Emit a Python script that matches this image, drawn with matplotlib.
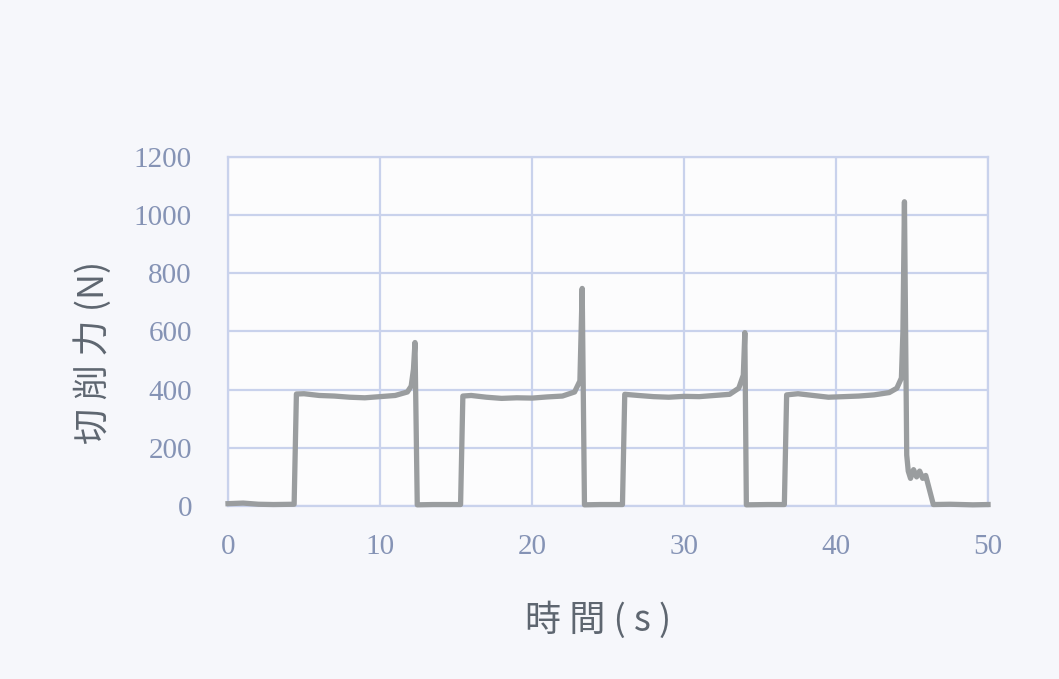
import matplotlib.pyplot as plt

# cutting force trace (time in s, force in N)
t = [0, 1.0, 2.0, 3.0, 4.35, 4.5, 5.0, 6.0, 7.0, 8.0, 9.0, 10.0, 11.0, 11.8, 12.05,
     12.2, 12.3, 12.45, 13.5, 15.3, 15.45, 16.0, 17.0, 18.0, 19.0, 20.0, 21.0,
     22.0, 22.8, 23.15, 23.3, 23.45, 24.5, 25.95, 26.1, 27.0, 28.0, 29.0, 30.0,
     31.0, 32.0, 33.0, 33.6, 33.9, 34.0, 34.1, 35.5, 36.6, 36.75, 37.5, 38.5,
     39.5, 40.5, 41.5, 42.5, 43.5, 44.0, 44.3, 44.4, 44.5, 44.65, 44.75, 44.9,
     45.1, 45.3, 45.5, 45.7, 45.9, 46.4, 47.5, 49.0, 50.0]
force = [8, 10, 6, 5, 6, 385, 386, 380, 378, 374, 372, 376, 380, 392, 412,
         470, 562, 4, 5, 5, 378, 380, 374, 370, 372, 371, 375,
         378, 392, 430, 748, 4, 5, 5, 384, 380, 376, 374, 377,
         376, 380, 384, 405, 450, 596, 4, 5, 5, 382, 386, 380,
         374, 376, 378, 382, 390, 405, 440, 600, 1046, 175, 120, 95,
         125, 100, 120, 95, 105, 5, 6, 4, 5]

x_ticks = [0, 10, 20, 30, 40, 50]
y_ticks = [0, 200, 400, 600, 800, 1000, 1200]

grid_col = '#c9d2ec'
tick_col = '#8593b5'
label_col = '#5e6670'

fig = plt.figure(figsize=(10.59, 6.79), dpi=100, facecolor='#f6f7fb')
ax = fig.add_axes([0.2153, 0.2548, 0.933 - 0.2153, 0.7688 - 0.2548])
ax.set_facecolor('#fcfcfd')

ax.plot(t, force, color='#9a9d9f', linewidth=3.8, clip_on=False, zorder=3)

ax.set_xlim(0, 50)
ax.set_ylim(0, 1200)
ax.set_xticks(x_ticks)
ax.set_yticks(y_ticks)
ax.grid(True, color=grid_col, linewidth=1.6)
for s in ax.spines.values():
    s.set_color(grid_col)
    s.set_linewidth(1.6)
ax.tick_params(length=0, labelsize=21, labelcolor=tick_col)
ax.tick_params(axis='x', pad=20)
ax.tick_params(axis='y', pad=26)
for lab in ax.get_xticklabels() + ax.get_yticklabels():
    lab.set_family('Liberation Serif')

ax.set_ylabel('切 削 力 (N)', fontsize=26, color=label_col,
              family=['Noto Sans CJK TC', 'DejaVu Sans'])
ax.set_xlabel('時 間 ( s )', fontsize=26, color=label_col,
              family=['Noto Sans CJK TC', 'DejaVu Sans'])
ax.yaxis.set_label_coords(-0.153, 0.44)
ax.xaxis.set_label_coords(0.487, -0.275)

fig.savefig('out.png', dpi=100, facecolor=fig.get_facecolor())
